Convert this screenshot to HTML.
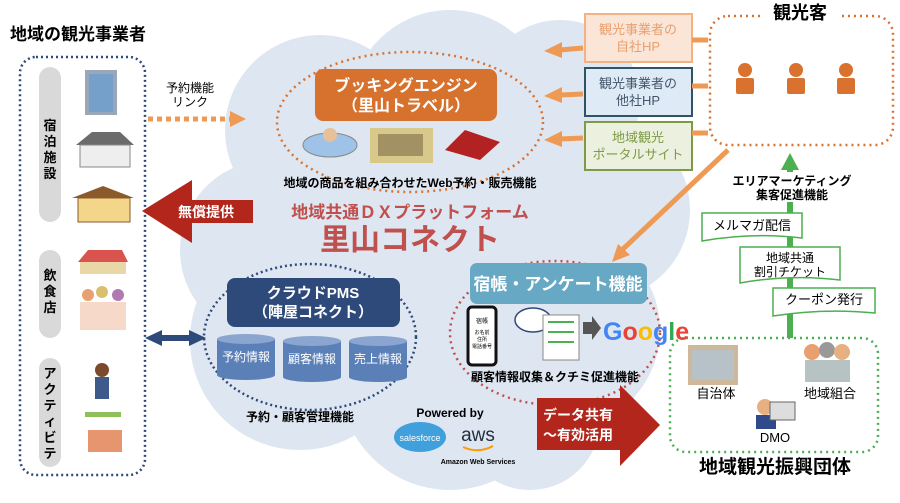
<!DOCTYPE html>
<html><head><meta charset="utf-8"><style>
html,body{margin:0;padding:0;background:#fff;}
svg{display:block;font-family:"Liberation Sans","Noto Sans CJK JP",sans-serif;}
.b{font-weight:bold;}
</style></head><body>
<svg width="900" height="503" viewBox="0 0 900 503" xmlns="http://www.w3.org/2000/svg">
<defs>
<marker id="ao" markerWidth="6" markerHeight="6" refX="3" refY="3" orient="auto"><path d="M0,0L6,3L0,6z" fill="#ee9a55"/></marker>
</defs>
<!-- cloud -->
<g fill="#dee6f1">
<circle cx="320" cy="130" r="95"/><circle cx="450" cy="110" r="100"/><circle cx="560" cy="100" r="80"/>
<circle cx="600" cy="210" r="90"/><circle cx="270" cy="250" r="90"/><circle cx="300" cy="340" r="110"/>
<circle cx="450" cy="380" r="110"/><circle cx="560" cy="330" r="100"/><circle cx="430" cy="240" r="130"/>
<circle cx="360" cy="190" r="110"/><circle cx="530" cy="420" r="70"/>
</g>
<!-- left title & box -->
<text x="10" y="40" font-size="17" class="b">地域の観光事業者</text>
<rect x="20" y="57" width="125" height="418" rx="16" fill="none" stroke="#2e4a7a" stroke-width="2.5" stroke-dasharray="2 3"/>
<rect x="39" y="67" width="22" height="155" rx="11" fill="#d9d9d9"/>
<rect x="39" y="250" width="22" height="88" rx="11" fill="#d9d9d9"/>
<rect x="39" y="358" width="22" height="109" rx="11" fill="#d9d9d9"/>
<g font-size="13" class="b" text-anchor="middle">
<text x="50" y="130">宿</text><text x="50" y="146">泊</text><text x="50" y="162">施</text><text x="50" y="178">設</text>
<text x="50" y="280">飲</text><text x="50" y="296">食</text><text x="50" y="312">店</text>
<text x="50" y="378">ア</text><text x="50" y="394">ク</text><text x="50" y="410">テ</text><text x="50" y="426">ィ</text><text x="50" y="442">ビ</text><text x="50" y="458">テ</text>
</g>
<!-- facility icons -->
<rect x="85" y="70" width="32" height="45" fill="#9aa7b8"/><rect x="89" y="74" width="24" height="38" fill="#5b9bd5" opacity=".6"/>
<path d="M76,145L92,132L120,132L134,145z" fill="#6b6b6b"/><rect x="80" y="145" width="50" height="22" fill="#eee" stroke="#888"/>
<path d="M72,198L103,186L134,198z" fill="#8b5a2b"/><rect x="78" y="198" width="52" height="24" fill="#f3d68a" stroke="#8b5a2b"/>
<path d="M78,262L88,250L122,250L128,262z" fill="#d9534f"/><rect x="80" y="262" width="46" height="12" fill="#e9d7a8"/>
<circle cx="88" cy="295" r="6" fill="#e8a070"/><circle cx="102" cy="292" r="6" fill="#d9c070"/><circle cx="118" cy="295" r="6" fill="#b07ab0"/><rect x="80" y="302" width="46" height="28" fill="#f2c9b0" opacity=".7"/>
<circle cx="102" cy="370" r="7" fill="#7a4a2a"/><rect x="95" y="377" width="14" height="22" fill="#3d5a8a"/>
<rect x="85" y="412" width="36" height="5" fill="#8fbf5a"/><rect x="88" y="430" width="34" height="22" fill="#e07a4a" opacity=".8"/>
<!-- link arrow -->
<text x="190" y="92" font-size="12" text-anchor="middle">予約機能</text>
<text x="190" y="106" font-size="12" text-anchor="middle">リンク</text>
<line x1="148" y1="119" x2="232" y2="119" stroke="#ee9a55" stroke-width="5" stroke-dasharray="5 4"/>
<path d="M230,111L246,119L230,127z" fill="#ee9a55"/>
<!-- booking engine -->
<ellipse cx="410" cy="122" rx="133" ry="70" fill="none" stroke="#d9722e" stroke-width="2.5" stroke-dasharray="2 4"/>
<rect x="315" y="69" width="182" height="52" rx="8" fill="#d7722e"/>
<text x="406" y="91" font-size="16" fill="#fff" class="b" text-anchor="middle">ブッキングエンジン</text>
<text x="406" y="111" font-size="16" fill="#fff" class="b" text-anchor="middle">（里山トラベル）</text>
<ellipse cx="330" cy="145" rx="27" ry="12" fill="#9fc3e8" stroke="#888"/><circle cx="330" cy="135" r="7" fill="#e8c09a"/>
<rect x="370" y="128" width="63" height="35" fill="#d8c98a"/><rect x="378" y="134" width="45" height="22" fill="#6b5a3a" opacity=".5"/>
<path d="M445,150L465,130L500,142L480,160z" fill="#b22222"/>
<text x="410" y="187" font-size="12" class="b" text-anchor="middle">地域の商品を組み合わせたWeb予約・販売機能</text>
<!-- red arrow left -->
<path d="M253,200L192,200L192,180L142,211L192,243L192,223L253,223z" fill="#b2261c"/>
<text x="206" y="217" font-size="14" fill="#fff" class="b" text-anchor="middle">無償提供</text>
<!-- platform title -->
<text x="410" y="218" font-size="17" fill="#c0504d" class="b" text-anchor="middle">地域共通ＤＸプラットフォーム</text>
<text x="410" y="250" font-size="30" fill="#c0504d" class="b" text-anchor="middle">里山コネクト</text>
<!-- right HP boxes -->
<rect x="585" y="14" width="107" height="48" fill="#fbe5d6" stroke="#f4b183" stroke-width="2"/>
<text x="638" y="34" font-size="13" fill="#e8a070" text-anchor="middle">観光事業者の</text><text x="638" y="51" font-size="13" fill="#e8a070" text-anchor="middle">自社HP</text>
<rect x="585" y="68" width="107" height="48" fill="#deebf7" stroke="#2f5565" stroke-width="2"/>
<text x="638" y="88" font-size="13" fill="#44546a" text-anchor="middle">観光事業者の</text><text x="638" y="105" font-size="13" fill="#44546a" text-anchor="middle">他社HP</text>
<rect x="585" y="122" width="107" height="48" fill="#ebf1de" stroke="#7f9a47" stroke-width="2"/>
<text x="638" y="142" font-size="13" fill="#7f9a47" text-anchor="middle">地域観光</text><text x="638" y="159" font-size="13" fill="#7f9a47" text-anchor="middle">ポータルサイト</text>
<g stroke="#ee9a55" stroke-width="5">
<line x1="583" y1="48" x2="560" y2="50"/><line x1="583" y1="94" x2="560" y2="95"/><line x1="583" y1="138" x2="560" y2="139"/>
<line x1="692" y1="40" x2="708" y2="40"/><line x1="692" y1="86" x2="708" y2="86"/><line x1="692" y1="133" x2="708" y2="133"/>
</g>
<path d="M562,42L544,51L562,58z M562,87L544,96L562,103z M562,131L544,140L562,147z" fill="#ee9a55"/>
<!-- tourists -->
<rect x="710" y="16" width="183" height="129" rx="18" fill="none" stroke="#d9722e" stroke-width="2.5" stroke-dasharray="2 4"/>
<rect x="762" y="2" width="76" height="22" fill="#fff"/>
<text x="800" y="19" font-size="18" class="b" text-anchor="middle">観光客</text>
<g fill="#d9722e">
<circle cx="745" cy="70" r="7"/><rect x="736" y="78" width="18" height="16" rx="2"/>
<circle cx="796" cy="70" r="7"/><rect x="787" y="78" width="18" height="16" rx="2"/>
<circle cx="846" cy="70" r="7"/><rect x="837" y="78" width="18" height="16" rx="2"/>
</g>
<line x1="728" y1="150" x2="622" y2="250" stroke="#ee9a55" stroke-width="5"/>
<path d="M612,262L618,244L630,255z" fill="#ee9a55"/>
<!-- green path -->
<line x1="790" y1="168" x2="790" y2="340" stroke="#4caf50" stroke-width="6"/>
<path d="M781,170L790,153L799,170z" fill="#4caf50"/>
<rect x="728" y="172" width="128" height="30" fill="#fff"/>
<text x="792" y="185" font-size="12" class="b" text-anchor="middle">エリアマーケティング</text>
<text x="792" y="199" font-size="12" class="b" text-anchor="middle">集客促進機能</text>
<path d="M702,213H802V238Q752,232 702,241z" fill="#fff" stroke="#4caf50" stroke-width="1.5"/>
<text x="752" y="230" font-size="13" text-anchor="middle">メルマガ配信</text>
<path d="M740,247H840V280Q790,274 740,283z" fill="#fff" stroke="#4caf50" stroke-width="1.5"/>
<text x="790" y="262" font-size="12" text-anchor="middle">地域共通</text><text x="790" y="276" font-size="12" text-anchor="middle">割引チケット</text>
<path d="M773,288H875V313Q824,308 773,316z" fill="#fff" stroke="#4caf50" stroke-width="1.5"/>
<text x="824" y="304" font-size="13" text-anchor="middle">クーポン発行</text>
<!-- org box -->
<rect x="670" y="338" width="208" height="114" rx="16" fill="#fff" stroke="#4caf50" stroke-width="2.5" stroke-dasharray="2 4"/>
<rect x="688" y="345" width="50" height="40" fill="#cdb89a"/><rect x="692" y="350" width="42" height="30" fill="#a8c8e8" opacity=".6"/>
<text x="716" y="398" font-size="13" text-anchor="middle">自治体</text>
<circle cx="812" cy="352" r="8" fill="#e8a070"/><circle cx="827" cy="350" r="8" fill="#999"/><circle cx="842" cy="352" r="8" fill="#e8b080"/>
<rect x="805" y="360" width="45" height="22" fill="#9aa" opacity=".7"/>
<text x="830" y="398" font-size="13" text-anchor="middle">地域組合</text>
<circle cx="765" cy="407" r="8" fill="#e8b080"/><rect x="756" y="415" width="20" height="14" fill="#2e4a8a"/><rect x="770" y="402" width="25" height="18" fill="#ddd" stroke="#666"/>
<text x="775" y="442" font-size="13" text-anchor="middle">DMO</text>
<text x="775" y="473" font-size="19" class="b" text-anchor="middle">地域観光振興団体</text>
<!-- 宿帳 -->
<ellipse cx="555" cy="333" rx="105" ry="72" fill="none" stroke="#c0504d" stroke-width="2.5" stroke-dasharray="2 4"/>
<rect x="470" y="263" width="177" height="41" rx="7" fill="#67a9c4"/>
<text x="558" y="290" font-size="17" fill="#fff" class="b" text-anchor="middle">宿帳・アンケート機能</text>
<rect x="468" y="307" width="28" height="58" rx="4" fill="#fff" stroke="#111" stroke-width="3"/>
<text x="482" y="323" font-size="6" text-anchor="middle">宿帳</text>
<text x="482" y="334" font-size="5" text-anchor="middle">お名前</text><text x="482" y="341" font-size="5" text-anchor="middle">住所</text><text x="482" y="348" font-size="5" text-anchor="middle">電話番号</text>
<ellipse cx="533" cy="320" rx="18" ry="12" fill="#fff" stroke="#2e4a7a" stroke-width="1.5"/>
<rect x="543" y="315" width="36" height="45" fill="#fff" stroke="#888"/>
<line x1="548" y1="322" x2="574" y2="322" stroke="#4caf50" stroke-width="2"/><line x1="548" y1="332" x2="574" y2="332" stroke="#4caf50" stroke-width="2"/><line x1="548" y1="342" x2="574" y2="342" stroke="#4caf50" stroke-width="2"/>
<path d="M583,322H592V316L601,328L592,340V334H583z" fill="#555"/>
<text x="603" y="340" font-size="25" font-weight="bold" font-family="Liberation Sans"><tspan fill="#4285f4">G</tspan><tspan fill="#ea4335">o</tspan><tspan fill="#fbbc05">o</tspan><tspan fill="#4285f4">g</tspan><tspan fill="#34a853">l</tspan><tspan fill="#ea4335">e</tspan></text>
<text x="555" y="381" font-size="12" class="b" text-anchor="middle">顧客情報収集＆クチミ促進機能</text>
<!-- red arrow right -->
<path d="M537,398L620,398L620,385L660,425L620,466L620,450L537,450z" fill="#b2261c"/>
<text x="578" y="420" font-size="14" fill="#fff" class="b" text-anchor="middle">データ共有</text>
<text x="578" y="440" font-size="14" fill="#fff" class="b" text-anchor="middle">～有効活用</text>
<!-- PMS -->
<ellipse cx="310" cy="337" rx="106" ry="73" fill="none" stroke="#2e4a7a" stroke-width="2.5" stroke-dasharray="2 3"/>
<rect x="227" y="278" width="173" height="49" rx="8" fill="#2e4a7a"/>
<text x="313" y="298" font-size="15" fill="#fff" class="b" text-anchor="middle">クラウドPMS</text>
<text x="313" y="317" font-size="15" fill="#fff" class="b" text-anchor="middle">（陣屋コネクト）</text>
<g fill="#5b80b8">
<rect x="217" y="339" width="58" height="36"/><ellipse cx="246" cy="339" rx="29" ry="5" fill="#8aa5cf"/><ellipse cx="246" cy="375" rx="29" ry="5"/>
<rect x="283" y="341" width="58" height="36"/><ellipse cx="312" cy="341" rx="29" ry="5" fill="#8aa5cf"/><ellipse cx="312" cy="377" rx="29" ry="5"/>
<rect x="349" y="341" width="58" height="36"/><ellipse cx="378" cy="341" rx="29" ry="5" fill="#8aa5cf"/><ellipse cx="378" cy="377" rx="29" ry="5"/>
</g>
<text x="246" y="361" font-size="12" fill="#fff" text-anchor="middle">予約情報</text>
<text x="312" y="363" font-size="12" fill="#fff" text-anchor="middle">顧客情報</text>
<text x="378" y="363" font-size="12" fill="#fff" text-anchor="middle">売上情報</text>
<path d="M145,338L162,330V335H189V330L206,338L189,346V341H162V346z" fill="#2e4a7a"/>
<text x="300" y="421" font-size="12" class="b" text-anchor="middle">予約・顧客管理機能</text>
<!-- powered -->
<text x="450" y="417" font-size="12" class="b" text-anchor="middle">Powered by</text>
<ellipse cx="420" cy="437" rx="26" ry="15" fill="#3fa0dc"/>
<text x="420" y="441" font-size="9" fill="#fff" text-anchor="middle">salesforce</text>
<text x="478" y="441" font-size="19" fill="#232f3e" text-anchor="middle">aws</text>
<path d="M463,447Q478,454 493,446" stroke="#f90" stroke-width="2" fill="none"/>
<text x="478" y="464" font-size="7" class="b" text-anchor="middle">Amazon Web Services</text>
</svg>
</body></html>
